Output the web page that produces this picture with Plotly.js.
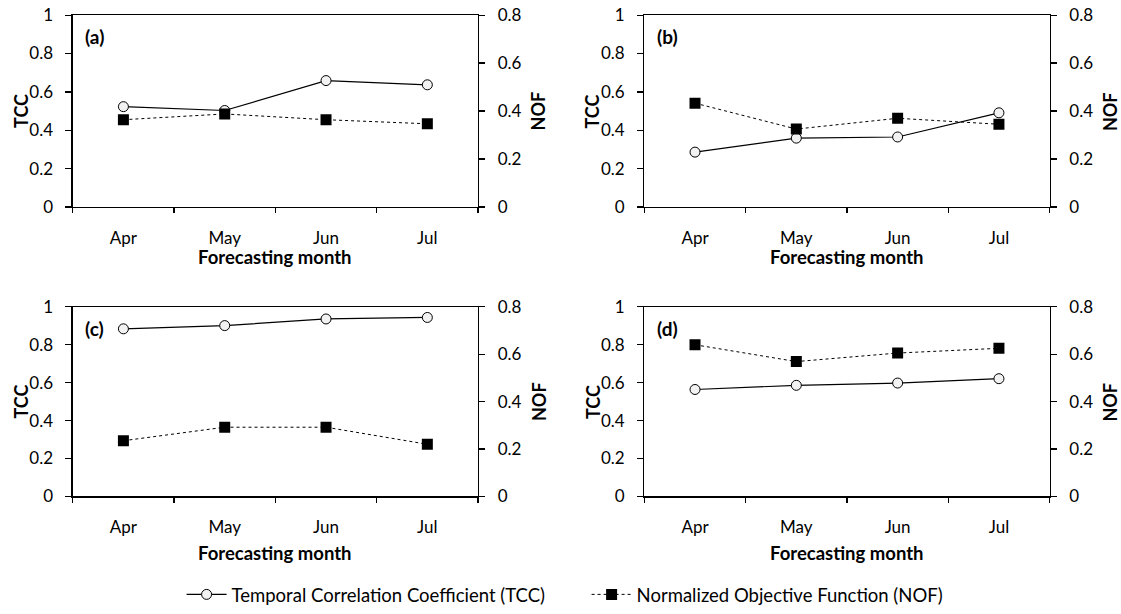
<!DOCTYPE html>
<html>
<head>
<meta charset="utf-8">
<script src="https://cdn.plot.ly/plotly-3.0.1.min.js"></script>
<style>html,body{margin:0;padding:0;background:#fff}#chart{width:1121px;height:614px}</style>
</head>
<body>
<div id="chart"></div>
<script>
// ---- data ----
const months = ["Apr", "May", "Jun", "Jul"];
const panelLabels = ["(a)", "(b)", "(c)", "(d)"];
const tccA = [0.523, 0.503, 0.659, 0.637];
const nofA = [0.364, 0.388, 0.364, 0.347];
const tccB = [0.286, 0.359, 0.365, 0.491];
const nofB = [0.433, 0.325, 0.370, 0.345];
const tccC = [0.884, 0.901, 0.936, 0.944];
const nofC = [0.235, 0.292, 0.292, 0.220];
const tccD = [0.564, 0.586, 0.598, 0.621];
const nofD = [0.640, 0.569, 0.605, 0.625];
const tccLeftTicks = [0, 0.2, 0.4, 0.6, 0.8, 1];
const nofRightTicks = [0, 0.2, 0.4, 0.6, 0.8];
const tccName = "Temporal Correlation Coefficient (TCC)";
const nofName = "Normalized Objective Function (NOF)";
const xTitle = "Forecasting month";

const tccSeries = [tccA, tccB, tccC, tccD];
const nofSeries = [nofA, nofB, nofC, nofD];

const FONT = "Lato, 'Open Sans', sans-serif";
const TICK = 17;
const xDomains = [[0.0649, 0.4264], [0.5748, 0.9363], [0.0649, 0.4264], [0.5748, 0.9363]];
const yDomains = [[0.659, 0.975], [0.659, 0.975], [0.1822, 0.4945], [0.1822, 0.4945]];

const traces = [];
const layout = {
  width: 1121, height: 614,
  margin: {l: 0, r: 0, t: 0, b: 0},
  paper_bgcolor: "#fff", plot_bgcolor: "#fff",
  font: {family: FONT, size: TICK, color: "#000"},
  showlegend: true,
  legend: {orientation: "h", x: 0.162, xanchor: "left", y: 0.02, yanchor: "middle",
           font: {family: FONT, size: 18.5, color: "#000"}, itemwidth: 40, tracegroupgap: 0,
           entrywidth: 350, entrywidthmode: "pixels"},
  annotations: []
};

for (let i = 0; i < 4; i++) {
  const xn = i === 0 ? "" : String(i + 1);
  const yl = i === 0 ? "" : String(2 * i + 1);
  const yr = String(2 * i + 2);
  traces.push({
    x: months, y: tccSeries[i], xaxis: "x" + xn, yaxis: "y" + yl,
    type: "scatter", mode: "lines+markers", name: tccName,
    showlegend: i === 0, legendgroup: "tcc",
    line: {color: "#000", width: 1.2},
    marker: {symbol: "circle", size: 10, color: "#f2f2f2", line: {color: "#000", width: 1}}
  });
  traces.push({
    x: months, y: nofSeries[i], xaxis: "x" + xn, yaxis: "y" + yr,
    type: "scatter", mode: "lines+markers", name: nofName,
    showlegend: i === 0, legendgroup: "nof",
    line: {color: "#000", width: 1, dash: "3px,3px"},
    marker: {symbol: "square", size: 11, color: "#000", line: {color: "#000", width: 0}}
  });
  layout["xaxis" + xn] = {
    domain: xDomains[i], anchor: "y" + yl, type: "category",
    range: [-0.5, 3.5], tickson: "boundaries", ticks: "outside", ticklen: 5,
    tickcolor: "#000", tickwidth: 1.3, showline: true, linecolor: "#000", linewidth: 1.3,
    mirror: true, showgrid: false, zeroline: false, fixedrange: true,
    tickfont: {family: FONT, size: TICK, color: "#000"}, ticklabelstandoff: 15
  };
  layout["yaxis" + yl] = {
    domain: yDomains[i], anchor: "x" + xn, range: [0, 1], tickvals: tccLeftTicks,
    ticks: "outside", ticklen: 6, tickcolor: "#000", tickwidth: 1.3,
    showline: true, linecolor: "#000", linewidth: 1.3, showgrid: false, zeroline: false,
    tickfont: {family: FONT, size: TICK, color: "#000"}, ticklabelstandoff: 9
  };
  layout["yaxis" + yr] = {
    overlaying: "y" + yl, side: "right", anchor: "x" + xn, range: [0, 0.8], tickvals: nofRightTicks,
    ticks: "outside", ticklen: 6, tickcolor: "#000", tickwidth: 1.3,
    showline: true, linecolor: "#000", linewidth: 1.3, showgrid: false, zeroline: false,
    tickfont: {family: FONT, size: TICK, color: "#000"}, ticklabelstandoff: 9
  };
  const xr = "x" + xn + " domain", yrf = "y" + yl + " domain";
  const titleY = i < 2 ? -0.26 : -0.3;
  layout.annotations.push(
    {xref: xr, yref: yrf, x: 0.026, y: 0.887, xanchor: "left", yanchor: "middle", showarrow: false,
     text: "<b>" + panelLabels[i] + "</b>", font: {family: FONT, size: 19, color: "#000"}},
    {xref: xr, yref: yrf, x: 0.5, y: titleY, xanchor: "center", yanchor: "middle", showarrow: false,
     text: "<b>" + xTitle + "</b>", font: {family: FONT, size: 18.5, color: "#000"}},
    {xref: xr, yref: yrf, x: -0.128, y: 0.5, xanchor: "center", yanchor: "middle", showarrow: false,
     textangle: -90, text: "<b>TCC</b>", font: {family: FONT, size: 18, color: "#000"}},
    {xref: xr, yref: yrf, x: 1.149, y: 0.5, xanchor: "center", yanchor: "middle", showarrow: false,
     textangle: -90, text: "<b>NOF</b>", font: {family: FONT, size: 18, color: "#000"}}
  );
}

Plotly.newPlot("chart", traces, layout, {staticPlot: true, displayModeBar: false});
</script>
</body>
</html>
